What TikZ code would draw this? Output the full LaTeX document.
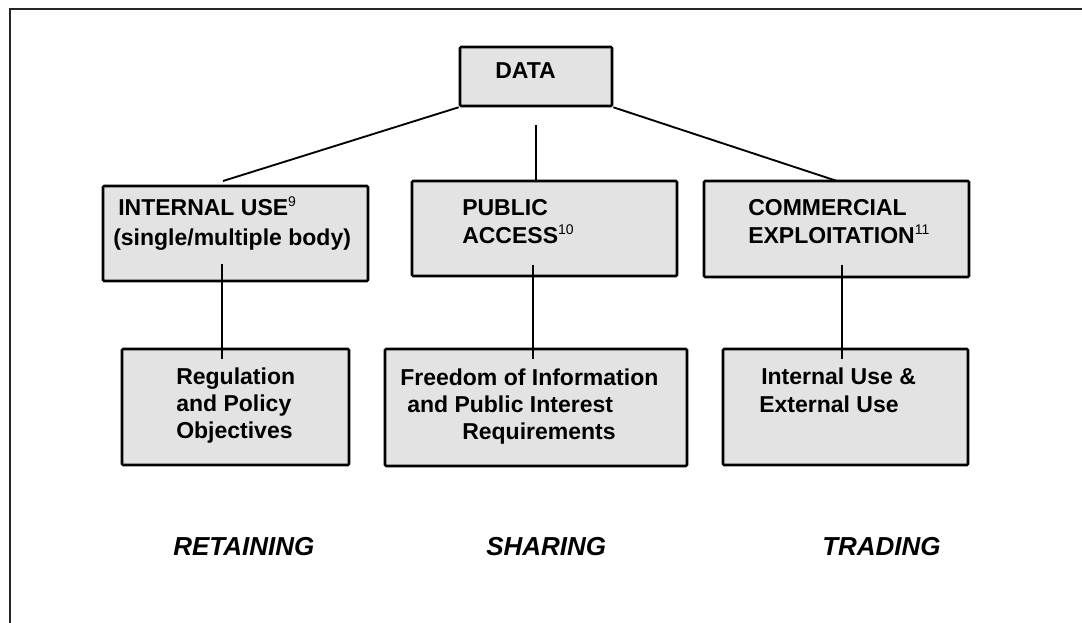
\documentclass[tikz,border=0pt]{standalone}
\usepackage{fontspec}
\setmainfont{Liberation Sans}
\definecolor{boxgray}{HTML}{E3E3E3}
\newcommand{\supnum}[1]{\raisebox{7pt}{\fontsize{10.5}{10.5}\selectfont\mdseries #1}}
\begin{document}
\begin{tikzpicture}[x=0.75pt,y=-0.75pt,
  box/.style={draw=black,line width=1.9pt,fill=boxgray,inner sep=0pt,rounded corners=0.8pt},
  txt/.style={anchor=base west,inner sep=0pt,font=\fontsize{17.25}{21}\selectfont\bfseries},
  lbl/.style={anchor=base west,inner sep=0pt,font=\fontsize{19.5}{23}\selectfont\bfseries\itshape},
  link/.style={line width=1.4pt,draw=black},
  frame/.style={line width=2.2pt,draw=black!85}]
\useasboundingbox (0,0) rectangle (1082,623);
% outer frame (open at right and bottom)
\draw[frame] (10,640) -- (10,9) -- (1100,9);

% boxes
\node[box,minimum width=114pt,minimum height=44.25pt] (data) at (536,76.5) {};
\node[box,minimum width=198.75pt,minimum height=71.25pt] (intl) at (235.5,233.5) {};
\node[box,minimum width=198.75pt,minimum height=71.25pt] (pub) at (544.5,228.5) {};
\node[box,minimum width=198.75pt,minimum height=72pt] (comm) at (836.5,229) {};
\node[box,minimum width=170.25pt,minimum height=87pt] (reg) at (235.5,407) {};
\node[box,minimum width=226.5pt,minimum height=87.75pt] (foi) at (536,407.5) {};
\node[box,minimum width=183.75pt,minimum height=87pt] (use) at (845.5,407) {};

% connector free ends
\coordinate (dl) at (223,181);
\coordinate (dr) at (837,181);
\coordinate (dm) at (536,125);
\coordinate (il) at (222,264);
\coordinate (ir) at (222,359);
\coordinate (pl) at (533,265);
\coordinate (pr) at (533,359);
\coordinate (cl) at (842,265);
\coordinate (cr) at (842,359);

% connectors
\draw[link] (data.south west) -- (dl);
\draw[link] (data.south east) -- (dr);
\draw[link] (dm) -- (dm |- pub.north);
\draw[link] (il) -- (ir);
\draw[link] (pl) -- (pr);
\draw[link] (cl) -- (cr);

% texts
\node[txt] (tdata) at (495,79) {DATA};
\node[txt] (ti1) at (118,216) {INTERNAL USE\supnum{9}};
\node[txt] (ti2) at (113,246) {(single/multiple body)};
\node[txt] (tp1) at (462,216) {PUBLIC};
\node[txt] (tp2) at (462,244) {ACCESS\supnum{10}};
\node[txt] (tc1) at (748,216) {COMMERCIAL};
\node[txt] (tc2) at (748,244) {EXPLOITATION\supnum{11}};
\node[txt] (tr1) at (176,385) {Regulation};
\node[txt] (tr2) at (176,412) {and Policy};
\node[txt] (tr3) at (176,439) {Objectives};
\node[txt] (tf1) at (400,386) {Freedom of Information};
\node[txt] (tf2) at (407,413) {and Public Interest};
\node[txt] (tf3) at (462,440) {Requirements};
\node[txt] (tu1) at (761,385) {Internal Use \&};
\node[txt] (tu2) at (759,413) {External Use};

% bottom labels
\node[lbl] (lret) at (173,555) {RETAINING};
\node[lbl] (lsha) at (486,555) {SHARING};
\node[lbl] (ltra) at (822,555) {TRADING};
\end{tikzpicture}
\end{document}
